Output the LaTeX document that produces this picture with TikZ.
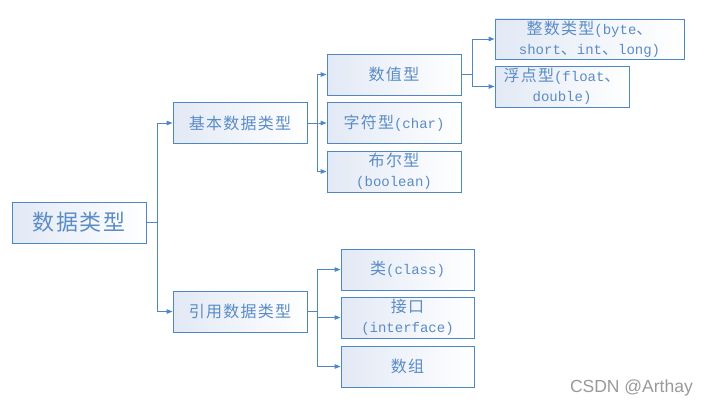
\documentclass[tikz,border=0pt]{standalone}
\usepackage{fontspec}
\setmainfont{Liberation Mono}
\newfontfamily\cjk[LetterSpace=8]{Noto Sans CJK SC}
\newfontfamily\wmfont{Liberation Sans}
\usetikzlibrary{arrows.meta}
\definecolor{bord}{HTML}{4F86C4}
\definecolor{txt}{HTML}{5A8CC6}
\definecolor{lb}{HTML}{E2E9F5}
\newcommand{\zh}[1]{{\cjk\fontsize{16}{20}\selectfont #1}}
\begin{document}
\begin{tikzpicture}[x=1pt,y=-1pt,
  box/.style={draw=bord, line width=0.9pt, left color=lb, middle color=white!70!lb, right color=white,
    minimum width=134pt, minimum height=41pt, inner sep=0pt, text=txt,
    font=\fontsize{14}{20}\selectfont, align=center},
  conn/.style={draw=bord, line width=0.9pt, -{Triangle[length=6pt,width=4.5pt]}}]
\useasboundingbox (0,0) rectangle (708,404);

\node[box] (root) at (79,222.5) {{\cjk\fontsize{22}{24}\selectfont 数据类型}};
\node[box] (basic) at (240,123) {\zh{基本数据类型}};
\node[box] (ref) at (240,311.5) {\zh{引用数据类型}};

\node[box] (num) at (394,74.5) {\zh{数值型}};
\node[box] (chr) at (394,123) {\zh{字符型}(char)};
\node[box] (bool) at (394,171.5) {\zh{布尔型}\\(boolean)};

\node[box, minimum width=189pt, minimum height=40pt] (int) at (589.5,39) {\zh{整数类型}(byte\zh{、}\\short\zh{、}int\zh{、}long)};
\node[box] (flt) at (562,86.5) {\zh{浮点型}(float\zh{、}\\double)};

\node[box, minimum width=133pt] (cls) at (407.5,269.5) {\zh{类}(class)};
\node[box, minimum width=133pt] (ifc) at (407.5,317.5) {\zh{接口}\\(interface)};
\node[box, minimum width=133pt] (arr) at (407.5,366.5) {\zh{数组}};

\draw[conn] (root.east) -- ++(11,0) |- (basic.west);
\draw[conn] (root.east) -- ++(11,0) |- (ref.west);

\draw[conn] (basic.east) -- ++(10,0) |- (num.west);
\draw[conn] (basic.east) -- ++(10,0) |- (chr.west);
\draw[conn] (basic.east) -- ++(10,0) |- (bool.west);

\draw[conn] (num.east) -- ++(11,0) |- (int.west);
\draw[conn] (num.east) -- ++(11,0) |- (flt.west);

\draw[conn] (ref.east) -- ++(10,0) |- (cls.west);
\draw[conn] (ref.east) -- ++(10,0) |- (ifc.west);
\draw[conn] (ref.east) -- ++(10,0) |- (arr.west);

\node[anchor=base east, text=black!40, font=\wmfont\fontsize{17.5}{17.5}\selectfont, inner sep=0pt] (wm) at (693,392) {CSDN @Arthay};
\end{tikzpicture}
\end{document}
